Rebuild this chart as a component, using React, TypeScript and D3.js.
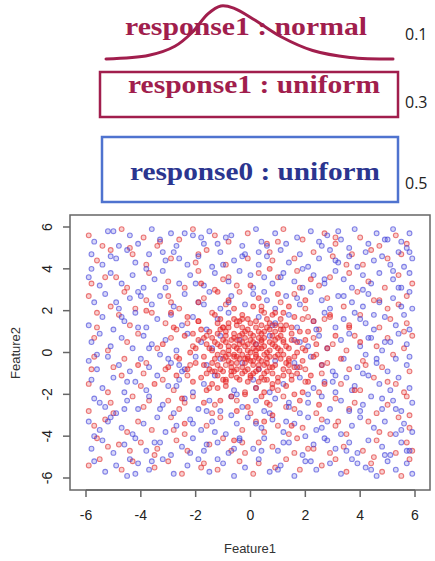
import React from "react";
import * as d3 from "d3";

// ---- data (values in tenths of a unit: x,y,x,y,...) ----
const blueUniform = [
  -57,53,-52,58,-48,51,-44,56,-41,52,-36,59,-33,54,-27,51,-24,57,-18,55,-12,52,-15,58,-7,56,-3,51,2,59,4,53,9,57,13,52,17,55,22,58,26,51,28,56,33,54,38,59,43,52,46,57,49,54,52,59,55,53,58,57,57,50,
  -58,47,-54,42,-49,45,-45,49,-42,43,-37,47,-31,44,-28,48,-23,42,-19,46,-14,41,-11,48,-6,44,-2,47,3,42,6,46,11,49,14,43,18,47,21,41,25,45,29,49,32,43,36,46,39,41,42,48,45,44,48,46,51,42,54,48,59,45,56,41,
  -59,36,-55,32,-51,38,-47,33,-43,37,-39,31,-35,35,-32,39,-26,33,-22,37,-17,32,-13,38,-8,34,-4,39,1,31,5,36,8,33,12,38,16,34,19,31,23,37,27,33,31,39,34,35,37,31,41,37,44,33,47,38,52,35,55,31,58,38,
  -57,24,-53,28,-48,21,-44,26,-41,29,-36,23,-33,27,-28,22,-24,28,-19,24,-15,29,-11,21,-7,27,-2,23,1,28,6,25,9,21,13,27,18,23,22,29,26,25,29,21,32,27,37,24,41,22,43,28,47,24,52,26,55,22,58,29,
  -59,13,-54,17,-50,11,-46,15,-42,19,-38,12,-34,16,-29,18,-25,13,-21,17,-16,11,-12,16,-8,19,3,17,8,13,14,18,17,12,23,15,27,19,31,12,34,16,38,19,42,14,45,11,49,17,53,13,56,18,58,11,
  -58,5,-55,9,-51,3,-47,7,-43,2,-39,8,-36,4,-31,6,-27,1,-23,9,-18,5,-14,2,-4,6,2,4,7,8,16,6,21,3,25,8,28,2,33,6,36,9,40,3,44,7,48,1,51,5,54,9,57,4,
  -59,-4,-56,-8,-52,-2,-48,-6,-44,-9,-40,-3,-37,-7,-33,-1,-29,-5,-24,-8,-20,-2,-16,-6,-11,-3,-3,-5,3,-8,9,-4,17,-7,22,-2,26,-6,30,-9,34,-3,39,-7,42,-1,46,-5,50,-9,53,-3,57,-6,
  -58,-13,-54,-17,-50,-12,-46,-19,-42,-14,-38,-18,-34,-11,-30,-16,-26,-13,-21,-19,-17,-15,-13,-11,-6,-18,2,-17,7,-19,12,-15,18,-12,23,-17,27,-14,31,-19,35,-12,38,-16,43,-11,47,-15,51,-18,54,-12,58,-17,
  -57,-22,-53,-26,-49,-29,-45,-23,-41,-27,-37,-21,-32,-25,-28,-29,-24,-22,-19,-27,-15,-23,-11,-28,-7,-21,-3,-26,2,-23,5,-28,9,-22,14,-26,18,-29,21,-24,26,-21,29,-27,33,-23,36,-28,41,-25,44,-21,48,-27,52,-23,55,-28,59,-24,
  -59,-33,-55,-37,-51,-31,-47,-36,-43,-39,-39,-34,-34,-31,-31,-38,-27,-35,-22,-32,-18,-37,-14,-33,-9,-39,-5,-34,-1,-31,4,-36,8,-32,12,-38,16,-34,21,-31,24,-37,28,-33,33,-39,37,-35,40,-31,45,-36,49,-33,53,-39,56,-34,59,-38,
  -58,-46,-54,-42,-50,-48,-46,-44,-42,-41,-38,-47,-33,-43,-29,-49,-25,-45,-21,-41,-17,-47,-12,-43,-8,-48,-4,-42,1,-46,5,-41,10,-47,14,-43,19,-49,23,-44,27,-41,31,-46,36,-43,39,-48,43,-42,48,-45,51,-49,55,-43,58,-47,
  -57,-52,-53,-57,-49,-54,-45,-59,-41,-53,-37,-56,-32,-51,-28,-58,-23,-54,-19,-51,-15,-57,-10,-53,-6,-59,-2,-55,3,-51,7,-57,11,-54,16,-59,20,-52,24,-56,29,-53,33,-58,37,-51,42,-55,46,-59,50,-52,53,-56,57,-53,59,-58,
  -56,-1,-49,24,-44,-51,-38,40,-33,-27,-29,57,-25,-9,-20,33,-16,-44,-11,8,-7,-30,-3,46,1,-13,5,29,10,-56,14,-24,19,40,24,11,28,-42,32,58,37,-18,41,30,46,-3,50,54,55,-37,59,21,
  -58,40,-52,-33,-47,17,-42,-58,-37,2,-32,48,-27,-16,-22,-48,-17,23,-13,-38,-9,55,-5,-20,0,37,4,-47,9,14,13,-33,18,5,22,-52,27,35,31,-11,36,50,40,-28,45,18,49,-49,54,31,58,-2,
  -55,-24,-50,58,-45,-14,-40,27,-35,-43,-30,-3,-26,45,-21,-34,-17,52,-12,-51,-8,24,-4,-41,3,48,7,-29,11,36,16,-5,20,-40,25,53,30,-14,34,27,39,-53,43,7,48,-22,52,39,57,-47,41,-10,
  -57,-40,-51,46,-46,-27,-41,12,-36,-52,-31,31,-26,-6,-21,56,-16,-28,-10,42,-6,-46,2,-34,6,51,12,-43,17,26,21,-20,26,-36,31,44,35,-47,40,16,44,-56,49,5,53,-27,58,48,
];

const redUniform = [
  -59,56,-54,51,-47,59,-39,55,-34,51,-26,54,-21,59,-13,56,-8,53,-1,57,6,52,12,59,19,54,27,57,31,52,40,55,47,51,53,56,57,52,
  -56,44,-51,49,-43,47,-38,42,-29,45,-20,43,-16,49,-9,42,-1,45,7,48,16,45,23,48,30,46,35,42,44,49,50,45,55,47,
  -58,33,-49,36,-45,31,-37,38,-30,34,-24,31,-19,39,-10,35,-5,32,3,38,10,36,17,39,25,32,29,36,36,38,43,34,49,31,54,37,59,33,
  -59,27,-51,22,-46,29,-38,25,-30,27,-26,21,-17,26,-9,23,-4,29,4,22,11,24,16,28,20,21,28,26,34,22,39,29,45,25,50,21,57,27,
  -56,12,-48,18,-44,13,-36,19,-31,14,-27,11,-19,15,-14,19,-10,12,-5,15,5,19,11,13,19,16,25,11,29,17,36,13,40,18,47,12,51,16,57,14,
  -57,7,-52,1,-45,5,-41,9,-34,2,-29,7,-21,3,-16,8,-12,4,12,6,19,2,23,7,30,4,35,1,38,8,46,3,50,7,56,2,59,8,
  -57,-2,-50,-7,-46,-3,-38,-5,-31,-8,-27,-2,-22,-6,-14,-9,-9,-6,14,-4,20,-8,24,-1,28,-5,36,-8,41,-4,48,-7,52,-1,58,-9,
  -59,-15,-52,-19,-47,-11,-40,-16,-32,-13,-28,-18,-23,-11,-15,-17,-9,-14,-2,-19,5,-13,10,-18,15,-11,20,-14,25,-19,33,-15,40,-18,45,-12,53,-15,56,-19,
  -59,-28,-51,-24,-43,-21,-39,-26,-30,-23,-26,-27,-21,-21,-13,-25,-5,-23,0,-29,7,-25,12,-21,16,-27,24,-29,31,-22,38,-24,46,-29,50,-25,57,-21,
  -57,-35,-53,-32,-45,-38,-41,-33,-36,-37,-29,-31,-24,-39,-16,-35,-11,-31,-3,-37,2,-33,10,-35,14,-39,19,-36,26,-32,31,-35,35,-39,43,-33,47,-38,54,-31,58,-36,
  -56,-41,-52,-45,-44,-47,-40,-43,-35,-49,-27,-42,-23,-47,-15,-44,-10,-41,-2,-48,3,-43,8,-45,17,-41,21,-46,29,-48,34,-45,41,-47,46,-42,53,-48,57,-43,
  -59,-54,-55,-51,-47,-56,-43,-52,-35,-55,-30,-52,-25,-58,-17,-53,-12,-56,-4,-52,1,-58,9,-55,13,-51,18,-56,26,-54,31,-51,35,-57,44,-53,48,-57,55,-59,58,-51,
  -58,-8,-53,36,-48,-44,-42,21,-37,-23,-33,53,-28,-37,-23,14,-18,-55,-13,30,-7,-47,3,-53,8,44,13,-26,18,31,23,-46,27,16,32,-33,37,47,42,-6,47,25,51,-39,56,10,59,-47,
  -56,19,-50,-29,-44,50,-39,-10,-34,-46,-29,24,-24,-24,-19,47,-14,-29,-8,36,-3,-43,5,-38,10,53,16,-48,21,17,26,-10,31,55,36,-27,41,42,45,-50,50,-14,54,23,58,-30,
];

const redNormal = [
  0,0,3,2,-4,1,6,-3,-2,-5,8,4,-7,6,1,8,-9,-2,5,7,-5,-8,10,-1,-1,11,2,-9,-11,3,7,-7,-6,9,4,-12,12,5,-3,-1,9,10,-10,-9,0,6,-8,-4,13,-5,3,-3,-4,4,6,12,-12,-6,1,-6,
  -2,3,8,-10,-5,13,11,8,-14,1,4,5,-7,-11,14,2,-1,-14,6,0,-9,8,2,15,-13,-3,10,-12,-6,-2,16,-2,-3,9,5,-6,-11,11,7,14,0,-11,-16,4,12,-8,-4,-13,9,3,-8,1,3,10,-1,-3,15,9,-10,-13,
  17,5,-15,-8,2,-17,-6,16,13,13,-17,-2,8,-15,-12,14,18,-7,-3,18,5,-19,-19,6,11,16,-9,-16,20,1,-20,-5,4,20,-14,-15,15,-13,-2,-20,21,10,-18,11,9,19,-7,-21,22,-11,-22,0,1,22,-13,18,16,17,-16,-18,
  24,4,-24,8,6,-24,-8,25,19,-19,-21,-14,14,22,-11,-23,26,-6,-26,-3,3,26,-1,-26,23,15,-23,17,18,-23,-17,-24,28,2,-28,12,10,28,-5,-28,27,-15,-27,-11,20,25,-19,24,31,8,-30,-7,8,-30,-12,29,25,-25,-25,-22,33,-3,-32,4,0,32,5,-33,29,18,-29,19,
  1,2,-3,-7,7,1,-5,6,2,-1,-1,4,4,-4,-6,-1,5,3,-2,-9,8,8,-9,5,0,-4,3,7,-4,-3,10,2,-7,-7,6,-9,-10,0,2,12,11,-3,-2,7,4,9,-5,-5,9,-6,-8,12,12,11,-12,-11,14,-9,-14,7,
  36,12,-35,-15,15,-35,-18,33,38,-18,-38,20,22,35,-24,-34,40,5,-41,-6,7,40,-6,-42,
  -1,1,2,-2,-3,5,5,-1,-5,-2,1,5,-2,-3,4,2,-6,3,3,-6,-1,-8,7,5,-8,-1,0,9,6,-5,-4,8,9,-2,-7,-5,2,4,-3,12,11,1,-10,6,5,10,-6,-9,8,-7,-9,10,13,3,-12,-1,0,-12,10,7,-11,-8,4,13,14,-3,-5,-12,7,11,-13,5,1,-10,-14,-5,15,6,-8,14,3,-14,12,-11,-15,10,16,-7,-4,15,9,13,-9,-13,17,0,-16,-10,6,16,-1,16,10,-14,-17,7,18,10,-11,16,13,-16,-18,-12,19,-4,8,18,-20,2,
  2,1,-1,-2,4,6,-6,7,7,-2,-3,-10,1,-4,-8,3,9,6,-2,10,5,-10,-10,-3,12,-1,-5,2,3,-8,-12,9,11,11,-7,-9,0,14,14,-6,-13,-9,6,-13,-3,16,17,-10,-15,2,15,12,-10,12,8,-17,-17,-6,20,6,-19,15,12,19,-12,-17,21,-14,-21,9,4,-21,-6,21,23,-2,-23,-8,16,-20,
];

const xTicks = [-6, -4, -2, 0, 2, 4, 6];
const yTicks = [-6, -4, -2, 0, 2, 4, 6];
const legendLabels = ["response1 : normal", "response1 : uniform", "response0 : uniform"];
const legendShares = ["0.1", "0.3", "0.5"];
// decorative bell curve outline (relative units: x 0..1, height 0..1)
const bellShape = [
  [0, 0], [0.15, 0.07], [0.24, 0.24], [0.3, 0.5], [0.355, 0.85], [0.4, 1], [0.445, 0.96],
  [0.52, 0.73], [0.61, 0.42], [0.72, 0.16], [0.85, 0.03], [1, 0],
];

function toPoints(arr: number[]) {
  const out: { x: number; y: number }[] = [];
  for (let i = 0; i < arr.length; i += 2) out.push({ x: arr[i] / 10, y: arr[i + 1] / 10 });
  return out;
}

const W = 435;
const H = 561;
const CRIMSON = "#a11e4d";
const BLUE_TEXT = "#2b358f";
const BLUE_BOX = "#4f73cf";
const SANS = "'Liberation Sans', Arial, Helvetica, sans-serif";
const SERIF = "'Liberation Serif', 'Times New Roman', serif";

export default function App() {
  const x = d3.scaleLinear().domain([-6, 6]).range([86, 415]);
  const y = d3.scaleLinear().domain([-6, 6]).range([478, 227]);
  const box = { x0: 70, y0: 215, x1: 430, y1: 490 };

  const blue = toPoints(blueUniform);
  const red1 = toPoints(redUniform);
  const red2 = toPoints(redNormal);

  const bx = d3.scaleLinear().domain([0, 1]).range([106, 393]);
  const by = d3.scaleLinear().domain([0, 1]).range([59, 6]);
  const bell = d3
    .line<number[]>()
    .x((d) => bx(d[0]))
    .y((d) => by(d[1]))
    .curve(d3.curveCatmullRom.alpha(0.5))(bellShape as any);

  const dot = (p: { x: number; y: number }, i: number, col: string, fo: number, so: number) => (
    <circle
      key={i}
      cx={x(p.x)}
      cy={y(p.y)}
      r={2.4}
      fill={col}
      fillOpacity={fo}
      stroke={col}
      strokeOpacity={so}
      strokeWidth={1.1}
    />
  );

  return (
    <svg
      width={W}
      height={H}
      style={{ position: "absolute", left: 0, top: 0, background: "#fff" }}
    >
      <rect x={0} y={0} width={W} height={H} fill="#fff" />
      {/* legend header */}
      <text
        x={125}
        y={35}
        fontFamily={SERIF}
        fontWeight="bold"
        fontSize={26}
        fill={CRIMSON}
        textLength={242}
        lengthAdjust="spacingAndGlyphs"
      >
        {legendLabels[0]}
      </text>
      <path d={bell || ""} fill="none" stroke={CRIMSON} strokeWidth={3} strokeLinecap="round" />
      <rect x={100} y={72} width={298} height={45} fill="none" stroke={CRIMSON} strokeWidth={2.5} />
      <text
        x={128}
        y={93}
        fontFamily={SERIF}
        fontWeight="bold"
        fontSize={26}
        fill={CRIMSON}
        textLength={252}
        lengthAdjust="spacingAndGlyphs"
      >
        {legendLabels[1]}
      </text>
      <rect x={102} y={137} width={296} height={65} fill="none" stroke={BLUE_BOX} strokeWidth={2.5} />
      <text
        x={130}
        y={180}
        fontFamily={SERIF}
        fontWeight="bold"
        fontSize={26}
        fill={BLUE_TEXT}
        textLength={250}
        lengthAdjust="spacingAndGlyphs"
      >
        {legendLabels[2]}
      </text>
      {legendShares.map((s, i) => (
        <text
          key={s}
          x={405}
          y={[40, 108, 189][i]}
          fontFamily="'Open Sans', sans-serif"
          fontSize={16}
          fill="#222"
        >
          {s}
        </text>
      ))}

      {/* points */}
      <g>{red1.map((p, i) => dot(p, i, "#e02828", 0.22, 0.6))}</g>
      <g>{blue.map((p, i) => dot(p, i, "#3b3bd8", 0.2, 0.6))}</g>
      <g>{red2.map((p, i) => dot(p, i, "#e62222", 0.38, 0.62))}</g>

      {/* plot box */}
      <rect
        x={box.x0}
        y={box.y0}
        width={box.x1 - box.x0}
        height={box.y1 - box.y0}
        fill="none"
        stroke="#666"
        strokeWidth={1.5}
      />
      {/* x axis */}
      <line x1={x(-6)} x2={x(6)} y1={box.y1} y2={box.y1} stroke="#666" strokeWidth={1.5} />
      {xTicks.map((t) => (
        <g key={t}>
          <line x1={x(t)} x2={x(t)} y1={box.y1} y2={box.y1 + 7} stroke="#666" strokeWidth={1.5} />
          <text
            x={x(t)}
            y={520}
            textAnchor="middle"
            fontFamily={SANS}
            fontSize={14}
            fill="#222"
          >
            {t}
          </text>
        </g>
      ))}
      {/* y axis */}
      {yTicks.map((t) => (
        <g key={t}>
          <line x1={box.x0 - 7} x2={box.x0} y1={y(t)} y2={y(t)} stroke="#666" strokeWidth={1.5} />
          <text
            transform={`translate(52,${y(t)}) rotate(-90)`}
            textAnchor="middle"
            fontFamily={SANS}
            fontSize={14}
            fill="#222"
          >
            {t}
          </text>
        </g>
      ))}
      <text x={250} y={553} textAnchor="middle" fontFamily={SANS} fontSize={13} fill="#333">
        Feature1
      </text>
      <text
        transform={`translate(20,353) rotate(-90)`}
        textAnchor="middle"
        fontFamily={SANS}
        fontSize={13}
        fill="#333"
      >
        Feature2
      </text>
    </svg>
  );
}
